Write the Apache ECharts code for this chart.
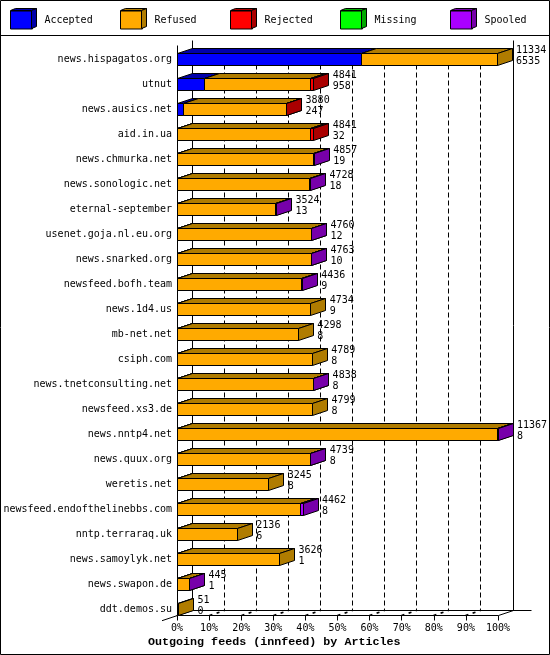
<!DOCTYPE html>
<html>
<head>
<meta charset="utf-8">
<style>html,body{margin:0;padding:0;background:#fff}#c{width:550px;height:655px}</style>
<script src="https://cdn.jsdelivr.net/npm/echarts@6/dist/echarts.min.js"></script>
</head>
<body>
<div id="c"></div>
<script>
const categories = ["news.hispagatos.org","utnut","news.ausics.net","aid.in.ua","news.chmurka.net","news.sonologic.net","eternal-september","usenet.goja.nl.eu.org","news.snarked.org","newsfeed.bofh.team","news.1d4.us","mb-net.net","csiph.com","news.tnetconsulting.net","newsfeed.xs3.de","news.nntp4.net","news.quux.org","weretis.net","newsfeed.endofthelinebbs.com","nntp.terraraq.uk","news.samoylyk.net","news.swapon.de","ddt.demos.su"];
const totals   = [11334,4841,3880,4841,4857,4728,3524,4760,4763,4436,4734,4298,4789,4838,4799,11367,4739,3245,4462,2136,3626,445,51];
const accepted = [6535,958,247,32,19,18,13,12,10,9,9,8,8,8,8,8,8,8,8,6,1,1,0];
const refused  = [4799,3783,3623,4709,4808,4690,3491,4738,4743,4417,4725,4290,4781,4820,4791,11349,4721,3237,4354,2130,3625,439,51];
const rejected = [0,100,10,100,0,0,0,0,0,0,0,0,0,0,0,0,0,0,0,0,0,0,0];
const missing  = [0,0,0,0,0,0,0,0,0,0,0,0,0,0,0,0,0,0,0,0,0,0,0];
const spooled  = [0,0,0,0,30,20,20,10,10,10,0,0,0,10,0,10,10,0,100,0,0,5,0];
const tickLabels = ["0%","10%","20%","30%","40%","50%","60%","70%","80%","90%","100%"];
const tickPercents = [0,10,20,30,40,50,60,70,80,90,100];
const axisMax = 11367;
const seriesNames = ["Accepted","Refused","Rejected","Missing","Spooled"];
const seriesValues = [accepted,refused,rejected,missing,spooled];
const frontColors = ["#0000ff","#ffaa00","#ff0000","#00ff00","#aa00ff"];
const darkColors  = ["#0000aa","#b07c00","#aa0000","#00aa00","#7700aa"];

const MONO = '"DejaVu Sans Mono", "Liberation Mono", monospace';
const DX = 15, DY = 5, HALF = 6;
const BACK_TOP = 40.5, BACK_BOTTOM = 610.5, FRONT_BOTTOM = 615.5, FRONT_TOP = 45.5;

function crisp(v){ return Math.round(v - 0.5) + 0.5; }

function barItem(i){
  return function(params, api){
    const a = api.coord([api.value(0), api.value(2)]);
    const b = api.coord([api.value(1), api.value(2)]);
    const x0 = crisp(a[0]), x1 = crisp(b[0]);
    const y0 = a[1] - HALF, y1 = a[1] + HALF;
    const edge = {stroke:'#000', lineWidth:1};
    return {type:'group', children:[
      {type:'polygon', shape:{points:[[x0,y0],[x0+DX,y0-DY],[x1+DX,y0-DY],[x1,y0]]}, style:Object.assign({fill:darkColors[i]},edge)},
      {type:'polygon', shape:{points:[[x1,y0],[x1+DX,y0-DY],[x1+DX,y1-DY],[x1,y1]]}, style:Object.assign({fill:darkColors[i]},edge)},
      {type:'rect', shape:{x:x0,y:y0,width:x1-x0,height:y1-y0}, style:Object.assign({fill:frontColors[i]},edge)}
    ]};
  };
}

const barSeries = seriesNames.map(function(name,i){
  let run = categories.map(function(_,k){
    let start = 0;
    for (let j=0;j<i;j++) start += seriesValues[j][k];
    return [start, start+seriesValues[i][k], k, seriesValues[i][k]];
  }).filter(function(r){ return r[3] > 0; });
  return {
    name:name, type:'custom', silent:true, clip:false, z:3,
    itemStyle:{color:frontColors[i]},
    encode:{x:[0,1], y:2},
    data:run, renderItem:barItem(i)
  };
});

const wallSeries = {
  type:'custom', silent:true, clip:false, z:1,
  encode:{x:0}, data:tickPercents.map(function(p){ return [p/100*axisMax, p]; }),
  renderItem:function(params, api){
    const f = crisp(api.coord([api.value(0),0])[0]);
    const p = api.value(1);
    const solid = (p===0 || p===100);
    const bx = f + DX;
    const dash = solid ? null : [5,3];
    const kids = [
      {type:'line', shape:{x1:bx,y1:solid?BACK_TOP:48.5,x2:bx,y2:BACK_BOTTOM}, style:{stroke:'#000',lineWidth:1,lineDash:dash}},
      {type:'line', shape:{x1:f,y1:FRONT_BOTTOM,x2:bx,y2:BACK_BOTTOM}, style:{stroke:'#000',lineWidth:solid?1:1.6,lineDash:solid?null:[3,4.5]}}
    ];
    if (p===0){
      kids.push({type:'line', shape:{x1:f,y1:FRONT_TOP,x2:f,y2:FRONT_BOTTOM}, style:{stroke:'#000',lineWidth:1}});
      kids.push({type:'line', shape:{x1:f-15.5,y1:FRONT_BOTTOM+5.2,x2:f,y2:FRONT_BOTTOM}, style:{stroke:'#000',lineWidth:1}});
      kids.push({type:'line', shape:{x1:bx,y1:BACK_BOTTOM,x2:531.5,y2:BACK_BOTTOM}, style:{stroke:'#000',lineWidth:1}});
    }
    return {type:'group', children:kids};
  }
};

const labelSeries = {
  type:'custom', silent:true, clip:false, z:5,
  encode:{x:0, y:1},
  data:categories.map(function(_,k){ return [totals[k], k, accepted[k]]; }),
  renderItem:function(params, api){
    const c = api.coord([api.value(0), api.value(1)]);
    const x = c[0] + 19;
    const font = '10px '+MONO;
    return {type:'group', children:[
      {type:'text', style:{text:String(api.value(0)), x:x, y:c[1]-9.5, font:font, fill:'#000', verticalAlign:'middle', align:'left'}},
      {type:'text', style:{text:String(api.value(2)), x:x, y:c[1]+1.5, font:font, fill:'#000', verticalAlign:'middle', align:'left'}}
    ]};
  }
};

const legendLeft = [10,120,230,340,450];
const legends = seriesNames.map(function(n,i){
  return {
    data:[n], left:legendLeft[i], top:10.5, itemWidth:22, itemHeight:18, icon:'rect',
    selectedMode:false, padding:0, itemGap:0,
    itemStyle:{borderColor:'#000',borderWidth:1},
    textStyle:{color:'#000', fontFamily:MONO, fontSize:10, padding:[0,0,0,7]}
  };
});
const legendCubes = [];
legendLeft.forEach(function(x,i){
  const l = x+0.5, r = x+21.5, t = 10.5, b = 28.5;
  legendCubes.push({type:'polygon', shape:{points:[[l,t],[l+5,t-2],[r+5,t-2],[r,t]]}, style:{fill:darkColors[i],stroke:'#000',lineWidth:1}, z:10});
  legendCubes.push({type:'polygon', shape:{points:[[r,t],[r+5,t-2],[r+5,b-2],[r,b]]}, style:{fill:darkColors[i],stroke:'#000',lineWidth:1}, z:10});
});

const chart = echarts.init(document.getElementById('c'));
chart.setOption({
  animation:false,
  backgroundColor:'#fff',
  title:{text:'Outgoing feeds (innfeed) by Articles', left:148, top:635, padding:0,
    textStyle:{color:'#000', fontFamily:'"Liberation Mono", monospace', fontWeight:'bold', fontSize:11.7, lineHeight:14}},
  legend:legends,
  grid:{left:177, width:321, top:47, height:575, containLabel:false},
  xAxis:{type:'value', min:0, max:axisMax, interval:axisMax/10, offset:-6.5,
    axisLine:{show:true,lineStyle:{color:'#000',width:1}},
    axisTick:{show:true,length:5,lineStyle:{color:'#000',width:1}},
    splitLine:{show:false},
    axisLabel:{color:'#000',fontFamily:MONO,fontSize:10,margin:8,showMinLabel:true,showMaxLabel:true,hideOverlap:false,
      formatter:function(v,i){ return tickLabels[i]; }}},
  yAxis:{type:'category', inverse:true, data:categories,
    axisLine:{show:false}, axisTick:{show:false}, splitLine:{show:false},
    axisLabel:{color:'#000',fontFamily:MONO,fontSize:10,margin:5,interval:0,padding:[2,0,0,0]}},
  series:[wallSeries].concat(barSeries,[labelSeries]),
  graphic:legendCubes.concat([
    {type:'rect', shape:{x:0.5,y:0.5,width:549,height:654}, style:{fill:'none',stroke:'#000',lineWidth:1}, z:20},
    {type:'line', shape:{x1:0,y1:35.5,x2:550,y2:35.5}, style:{stroke:'#000',lineWidth:1}, z:20}
  ])
});
</script>
</body>
</html>
